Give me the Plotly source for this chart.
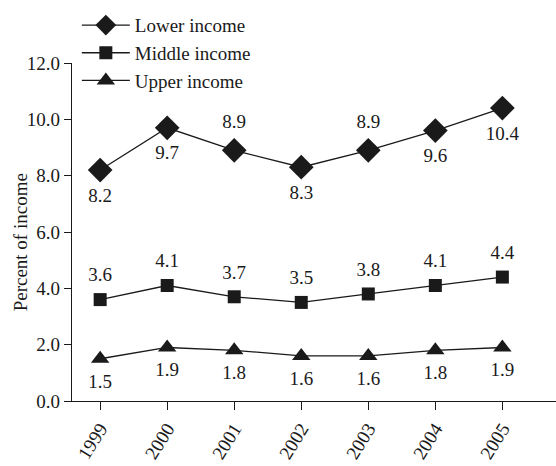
import plotly.graph_objects as go

years = ["1999", "2000", "2001", "2002", "2003", "2004", "2005"]
lower = [8.2, 9.7, 8.9, 8.3, 8.9, 9.6, 10.4]
middle = [3.6, 4.1, 3.7, 3.5, 3.8, 4.1, 4.4]
upper = [1.5, 1.9, 1.8, 1.6, 1.6, 1.8, 1.9]
lower_pos = ["bottom center", "bottom center", "top center", "bottom center",
             "top center", "bottom center", "bottom center"]
middle_pos = ["top center"] * 7
upper_pos = ["bottom center"] * 7

FONT = "Times New Roman, Liberation Serif, serif"
INK = "#1a1a1a"

fig = go.Figure()
series = [
    ("Lower income", lower, lower_pos, "diamond", 19, 26),
    ("Middle income", middle, middle_pos, "square", 13, 20),
    ("Upper income", upper, upper_pos, "triangle-up", 16, 22),
]
for name, vals, pos, sym, sz, gap in series:
    fig.add_trace(go.Scatter(
        x=years, y=vals, name=name, mode="lines+markers",
        line=dict(color=INK, width=1.3),
        marker=dict(symbol=sym, size=sz, color=INK),
    ))
for name, vals, pos, sym, sz, gap in series:
    fig.add_trace(go.Scatter(
        x=years, y=vals, mode="markers+text", showlegend=False, hoverinfo="skip",
        text=[f"{v:.1f}" for v in vals], textposition=pos,
        textfont=dict(family=FONT, size=19, color=INK),
        marker=dict(size=gap, color="rgba(0,0,0,0)"),
    ))

fig.add_annotation(text="Percent of income", xref="paper", yref="paper",
                   x=-0.107, y=0.47, xanchor="center", yanchor="middle",
                   textangle=-90, showarrow=False,
                   font=dict(family=FONT, size=19, color=INK))

fig.update_layout(
    width=556, height=466,
    margin=dict(l=72, r=0, t=63, b=65, autoexpand=False),
    paper_bgcolor="white", plot_bgcolor="white",
    font=dict(family=FONT, size=19, color=INK),
    showlegend=True,
    legend=dict(x=0.01, y=1.168, xanchor="left", yanchor="top", itemwidth=48,
                bgcolor="rgba(0,0,0,0)", font=dict(family=FONT, size=19), tracegroupgap=0),
    xaxis=dict(type="category", range=[-0.42, 6.8], showline=True, linecolor=INK,
               linewidth=1.3, ticks="outside", ticklen=8, tickcolor=INK,
               tickangle=-58, showgrid=False, zeroline=False, automargin=False,
               tickfont=dict(family=FONT, size=19)),
    yaxis=dict(range=[0, 12], dtick=2, tickformat=".1f", showline=True, linecolor=INK,
               linewidth=1.3, ticks="outside", ticklen=7, tickcolor=INK,
               showgrid=False, zeroline=False, automargin=False,
               tickfont=dict(family=FONT, size=19)),
)
fig.write_html("out.html", config={"displayModeBar": False},
               post_script="document.body.style.margin='0';document.body.style.overflow='hidden';")
